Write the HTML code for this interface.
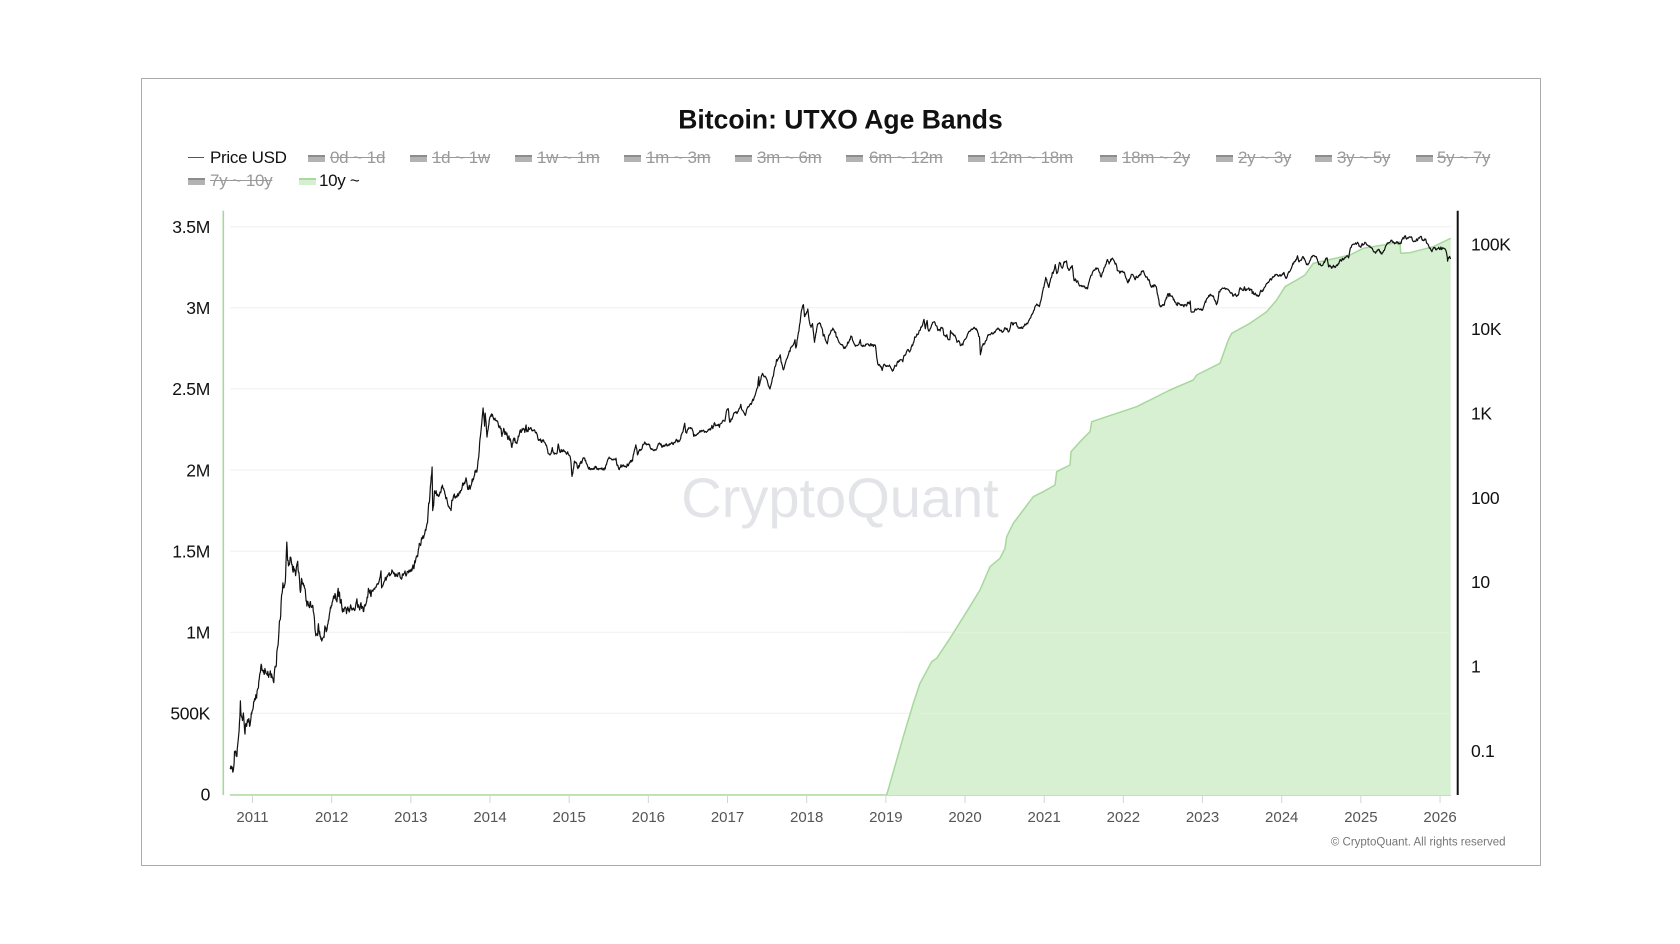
<!DOCTYPE html>
<html><head><meta charset="utf-8">
<style>
html,body{margin:0;padding:0;background:#fff;}
body{width:1680px;height:944px;position:relative;overflow:hidden;font-family:"Liberation Sans",Arial,sans-serif;}
#frame{position:absolute;left:140.5px;top:77.5px;width:1398px;height:786px;border:1.5px solid #ababab;}
.lg{position:absolute;font-size:17px;line-height:20px;letter-spacing:-0.3px;white-space:nowrap;}
.off{color:#9a9a9a;text-decoration:line-through;text-decoration-color:#9a9a9a;}
.on{color:#111;}
.bx{position:absolute;width:17px;height:5px;background:#b3b3b3;border-top:2px solid #8c8c8c;}
.bg{background:#d6efd1;border-top:2px solid #a8d99e;}
svg{position:absolute;left:0;top:0;}
</style></head>
<body>
<div id="frame"></div>

<!-- legend row 1 -->
<div style="position:absolute;left:188px;top:156.8px;width:16px;height:1.5px;background:#555;"></div>
<div class="lg on" style="left:210px;top:147.7px;">Price USD</div>
<div class="bx" style="left:308px;top:155px;"></div><div class="lg off" style="left:330px;top:147.7px;">0d ~ 1d</div>
<div class="bx" style="left:410px;top:155px;"></div><div class="lg off" style="left:432px;top:147.7px;">1d ~ 1w</div>
<div class="bx" style="left:515px;top:155px;"></div><div class="lg off" style="left:537px;top:147.7px;">1w ~ 1m</div>
<div class="bx" style="left:624px;top:155px;"></div><div class="lg off" style="left:646px;top:147.7px;">1m ~ 3m</div>
<div class="bx" style="left:735px;top:155px;"></div><div class="lg off" style="left:757px;top:147.7px;">3m ~ 6m</div>
<div class="bx" style="left:846px;top:155px;"></div><div class="lg off" style="left:869px;top:147.7px;">6m ~ 12m</div>
<div class="bx" style="left:968px;top:155px;"></div><div class="lg off" style="left:990px;top:147.7px;">12m ~ 18m</div>
<div class="bx" style="left:1100px;top:155px;"></div><div class="lg off" style="left:1122px;top:147.7px;">18m ~ 2y</div>
<div class="bx" style="left:1216px;top:155px;"></div><div class="lg off" style="left:1238px;top:147.7px;">2y ~ 3y</div>
<div class="bx" style="left:1315px;top:155px;"></div><div class="lg off" style="left:1337px;top:147.7px;">3y ~ 5y</div>
<div class="bx" style="left:1416px;top:155px;"></div><div class="lg off" style="left:1437px;top:147.7px;">5y ~ 7y</div>
<!-- legend row 2 -->
<div class="bx" style="left:188px;top:178px;"></div><div class="lg off" style="left:210px;top:170.9px;">7y ~ 10y</div>
<div class="bx bg" style="left:299px;top:178px;"></div><div class="lg on" style="left:319px;top:170.9px;">10y ~</div>

<svg width="1680" height="944" viewBox="0 0 1680 944" xmlns="http://www.w3.org/2000/svg">
  <text x="840.5" y="128.5" text-anchor="middle" font-family="Liberation Sans, Arial, sans-serif" font-weight="bold" font-size="26.5" fill="#111">Bitcoin: UTXO Age Bands</text>

  <!-- grid -->
  <g stroke="#efefef" stroke-width="1">
    <line x1="230" x2="1451" y1="226.7" y2="226.7"/>
    <line x1="230" x2="1451" y1="307.8" y2="307.8"/>
    <line x1="230" x2="1451" y1="388.9" y2="388.9"/>
    <line x1="230" x2="1451" y1="470" y2="470"/>
    <line x1="230" x2="1451" y1="551.1" y2="551.1"/>
    <line x1="230" x2="1451" y1="632.2" y2="632.2"/>
    <line x1="230" x2="1451" y1="713.3" y2="713.3"/>
  </g>

  <!-- watermark -->
  <text x="840" y="517" text-anchor="middle" font-family="Liberation Sans, Arial, sans-serif" font-size="56" fill="#e3e4e8">CryptoQuant</text>

  <!-- green area 10y+ -->
  <polygon fill="#d7f0d2" points="886.7,795 903.3,736.7 913.3,703.3 920,683.3 931.7,661.7 936.7,658.3 950,638.3 966.7,611.7 980,590 990,566.7 1000,558.3 1005,548.3 1006.7,536.7 1013.3,523.3 1023.3,510 1033.3,496.7 1043.3,491.7 1055,485 1056.7,471.7 1063.3,468.3 1070,465 1071,451.7 1080,441.7 1090,431.7 1091.7,421.7 1106.7,416.7 1136.7,406.7 1150,400 1170,390 1193.3,380 1196.7,375 1220,363.3 1228.3,340 1231.7,333.3 1250,323.3 1266.7,311.7 1276.7,300 1285,286.7 1296.7,280 1305,275 1313.3,263.3 1323.3,261 1350,255 1363.3,248.3 1383.3,245 1400,241.7 1400.7,253.3 1410,252.7 1433.3,246.7 1450.7,238.3 1450.7,795"/>
  <g stroke="#ecf6ea" stroke-width="1" opacity="0.6">
    <line x1="900" x2="1450" y1="632.2" y2="632.2"/>
    <line x1="920" x2="1450" y1="713.3" y2="713.3"/>
  </g>
  <polyline fill="none" stroke="#a6d89b" stroke-width="1.5" stroke-linejoin="round" points="230,795 886.7,795 903.3,736.7 913.3,703.3 920,683.3 931.7,661.7 936.7,658.3 950,638.3 966.7,611.7 980,590 990,566.7 1000,558.3 1005,548.3 1006.7,536.7 1013.3,523.3 1023.3,510 1033.3,496.7 1043.3,491.7 1055,485 1056.7,471.7 1063.3,468.3 1070,465 1071,451.7 1080,441.7 1090,431.7 1091.7,421.7 1106.7,416.7 1136.7,406.7 1150,400 1170,390 1193.3,380 1196.7,375 1220,363.3 1228.3,340 1231.7,333.3 1250,323.3 1266.7,311.7 1276.7,300 1285,286.7 1296.7,280 1305,275 1313.3,263.3 1323.3,261 1350,255 1363.3,248.3 1383.3,245 1400,241.7 1400.7,253.3 1410,252.7 1433.3,246.7 1450.7,238.3"/>

  <!-- x axis -->
  <line x1="230" x2="1451" y1="795.5" y2="795.5" stroke="#d4d4d4" stroke-width="1"/>
  <g id="xticks" stroke="#d4d4d4" stroke-width="1"></g>
  <g id="xlabels" font-family="Liberation Sans, Arial, sans-serif" font-size="15" fill="#555" text-anchor="middle"></g>

  <!-- axes lines -->
  <line x1="223.3" x2="223.3" y1="210.7" y2="795" stroke="#a6d89b" stroke-width="1.6"/>
  <line x1="1457.7" x2="1457.7" y1="210.7" y2="795" stroke="#111" stroke-width="2"/>

  <!-- left labels -->
  <g font-family="Liberation Sans, Arial, sans-serif" font-size="17.5" fill="#111" text-anchor="end" letter-spacing="-0.3">
    <text x="210" y="233">3.5M</text>
    <text x="210" y="314.1">3M</text>
    <text x="210" y="395.2">2.5M</text>
    <text x="210" y="476.3">2M</text>
    <text x="210" y="557.4">1.5M</text>
    <text x="210" y="638.5">1M</text>
    <text x="210" y="719.6">500K</text>
    <text x="210" y="800.7">0</text>
  </g>
  <!-- right labels -->
  <g font-family="Liberation Sans, Arial, sans-serif" font-size="17.5" fill="#111" letter-spacing="-0.3">
    <text x="1471" y="250.6">100K</text>
    <text x="1471" y="335">10K</text>
    <text x="1471" y="419.4">1K</text>
    <text x="1471" y="503.8">100</text>
    <text x="1471" y="588.2">10</text>
    <text x="1471" y="672.6">1</text>
    <text x="1471" y="757">0.1</text>
  </g>

  <!-- price line -->
  <path id="price" fill="none" stroke="#111" stroke-width="1.2" stroke-linejoin="round" d=""/>

  <text x="1505.5" y="845.5" text-anchor="end" font-family="Liberation Sans, Arial, sans-serif" font-size="11.5" fill="#777">© CryptoQuant. All rights reserved</text>
</svg>

<script>
(function(){
  function X(t){return 252.5+(t-2011)*79.17;}
  function YL(l){return 244.3-(l-5)*84.4;}
  function dy(s){var a=s.split('-').map(Number);var ms=Date.UTC(a[0],a[1]-1,a[2]);var y0=Date.UTC(a[0],0,1),y1=Date.UTC(a[0]+1,0,1);return a[0]+(ms-y0)/(y1-y0);}
  var NS="http://www.w3.org/2000/svg";
  var tk=document.getElementById('xticks'), lb=document.getElementById('xlabels');
  for(var y=2011;y<=2026;y++){
    var x=X(y);
    var l=document.createElementNS(NS,'line');l.setAttribute('x1',x);l.setAttribute('x2',x);l.setAttribute('y1',795.5);l.setAttribute('y2',803);tk.appendChild(l);
    var t=document.createElementNS(NS,'text');t.setAttribute('x',x);t.setAttribute('y',822);t.textContent=String(y);lb.appendChild(t);
  }
  var P=[
["2010-09-19",0.062],["2010-10-06",0.062],["2010-10-10",0.098],["2010-10-25",0.12],["2010-11-02",0.22],["2010-11-06",0.39],["2010-11-10",0.26],["2010-11-20",0.28],["2010-12-01",0.21],["2010-12-15",0.24],
["2011-01-01",0.30],["2011-01-20",0.42],["2011-02-01",0.70],["2011-02-10",1.06],["2011-02-20",0.85],["2011-03-01",0.90],["2011-03-20",0.80],["2011-04-05",0.72],["2011-04-15",1.0],["2011-04-25",1.6],["2011-05-05",3.4],["2011-05-15",7],["2011-05-25",8.5],["2011-06-01",10],["2011-06-08",29.6],["2011-06-12",18],["2011-06-20",16],["2011-07-01",16],["2011-07-15",13.8],["2011-08-01",13],["2011-08-10",7.5],["2011-08-15",11],["2011-08-25",9],["2011-09-01",8.2],["2011-09-15",5.5],["2011-10-01",5],["2011-10-12",4.0],["2011-10-20",2.3],["2011-11-01",3.2],["2011-11-18",2.05],["2011-12-01",3.0],["2011-12-15",3.2],
["2012-01-01",5.2],["2012-01-10",6.8],["2012-01-25",5.8],["2012-02-10",5.6],["2012-02-20",4.4],["2012-03-01",4.9],["2012-03-20",4.8],["2012-04-10",4.9],["2012-05-01",5.0],["2012-05-20",5.1],["2012-06-01",5.3],["2012-06-15",6.5],["2012-07-01",6.7],["2012-07-20",8.6],["2012-08-10",11],["2012-08-16",13.5],["2012-08-19",8.5],["2012-09-01",10.2],["2012-09-15",11.6],["2012-10-01",12.4],["2012-10-20",11.6],["2012-11-15",11],["2012-12-01",12.6],["2012-12-20",13.4],
["2013-01-01",13.4],["2013-01-15",14.3],["2013-02-01",20],["2013-02-15",27],["2013-03-01",33],["2013-03-15",47],["2013-03-28",90],["2013-04-09",230],["2013-04-12",70],["2013-04-20",120],["2013-05-01",105],["2013-05-15",115],["2013-06-01",128],["2013-06-15",100],["2013-07-05",70],["2013-07-15",98],["2013-08-01",105],["2013-08-20",120],["2013-09-01",140],["2013-09-20",125],["2013-10-01",125],["2013-10-20",180],["2013-11-01",200],["2013-11-10",300],["2013-11-20",600],["2013-11-30",1150],["2013-12-07",700],["2013-12-10",1000],["2013-12-18",520],["2013-12-25",700],
["2014-01-05",950],["2014-01-20",830],["2014-02-01",820],["2014-02-10",680],["2014-02-25",530],["2014-03-05",660],["2014-03-20",580],["2014-04-10",400],["2014-04-20",500],["2014-05-01",450],["2014-05-25",590],["2014-06-03",660],["2014-06-20",600],["2014-07-01",640],["2014-07-20",620],["2014-08-01",590],["2014-08-18",480],["2014-09-01",480],["2014-09-20",400],["2014-10-05",320],["2014-10-15",390],["2014-11-01",330],["2014-11-12",430],["2014-11-25",370],["2014-12-10",350],["2014-12-31",315],
["2015-01-07",290],["2015-01-14",178],["2015-01-25",270],["2015-02-10",220],["2015-02-28",255],["2015-03-10",295],["2015-03-25",245],["2015-04-14",220],["2015-05-01",235],["2015-06-01",225],["2015-06-20",245],["2015-07-10",290],["2015-07-20",280],["2015-08-01",280],["2015-08-18",215],["2015-09-01",230],["2015-09-20",230],["2015-10-01",238],["2015-10-20",270],["2015-11-04",420],["2015-11-12",320],["2015-12-01",370],["2015-12-15",455],
["2016-01-01",430],["2016-01-15",380],["2016-02-01",370],["2016-02-20",440],["2016-03-10",415],["2016-04-01",420],["2016-05-01",450],["2016-05-25",470],["2016-06-05",580],["2016-06-17",760],["2016-06-22",590],["2016-07-05",670],["2016-07-20",665],["2016-08-02",540],["2016-08-20",580],["2016-09-10",620],["2016-10-01",610],["2016-10-25",655],["2016-11-10",715],["2016-12-01",750],["2016-12-20",800],
["2017-01-04",1130],["2017-01-11",780],["2017-01-25",900],["2017-02-15",1000],["2017-03-03",1270],["2017-03-24",940],["2017-04-10",1200],["2017-05-01",1420],["2017-05-20",2000],["2017-05-25",2700],["2017-05-27",2100],["2017-06-11",2950],["2017-06-20",2700],["2017-07-01",2500],["2017-07-16",1930],["2017-08-01",2800],["2017-08-15",4300],["2017-09-01",4900],["2017-09-15",3250],["2017-09-30",4350],["2017-10-12",5400],["2017-10-20",6000],["2017-11-08",7400],["2017-11-12",5900],["2017-11-26",9300],["2017-12-07",16000],["2017-12-17",19300],["2017-12-22",13900],
["2018-01-06",17100],["2018-01-17",11000],["2018-01-28",11500],["2018-02-06",6900],["2018-02-20",11200],["2018-03-05",11500],["2018-03-18",8200],["2018-04-06",6600],["2018-04-24",9600],["2018-05-05",9800],["2018-05-28",7100],["2018-06-12",6500],["2018-06-29",5900],["2018-07-24",8200],["2018-08-14",6200],["2018-09-05",7400],["2018-09-10",6300],["2018-10-10",6600],["2018-11-14",6300],["2018-11-20",4500],["2018-11-25",3800],["2018-12-15",3200],["2018-12-25",3800],
["2019-01-10",3600],["2019-02-08",3400],["2019-02-24",4100],["2019-03-20",4050],["2019-04-02",4900],["2019-04-24",5500],["2019-05-14",8000],["2019-05-30",8600],["2019-06-26",12900],["2019-07-02",10000],["2019-07-10",12500],["2019-07-17",9400],["2019-08-06",11900],["2019-08-29",9500],["2019-09-20",10200],["2019-09-25",8400],["2019-10-23",7400],["2019-10-26",9500],["2019-11-25",6900],["2019-12-18",6600],
["2020-01-15",8800],["2020-02-13",10400],["2020-03-08",8000],["2020-03-12",4900],["2020-03-20",6200],["2020-04-30",8700],["2020-05-10",8700],["2020-06-01",10200],["2020-06-25",9200],["2020-07-25",9700],["2020-08-01",11800],["2020-08-20",11700],["2020-09-05",10200],["2020-10-10",11300],["2020-10-25",13000],["2020-11-10",15300],["2020-11-25",19000],["2020-12-10",18300],["2020-12-20",23500],
["2021-01-08",40500],["2021-01-22",30800],["2021-02-08",46400],["2021-02-21",57400],["2021-02-28",45000],["2021-03-13",61000],["2021-03-25",52000],["2021-04-14",63500],["2021-04-25",49000],["2021-05-10",56000],["2021-05-19",37000],["2021-05-30",35500],["2021-06-22",32500],["2021-07-20",29800],["2021-08-01",40000],["2021-08-22",49000],["2021-09-06",52000],["2021-09-21",41000],["2021-10-20",66000],["2021-10-27",58500],["2021-11-10",67500],["2021-11-30",57000],["2021-12-04",49000],["2021-12-31",46300],
["2022-01-22",35000],["2022-02-10",44000],["2022-02-24",38000],["2022-03-29",47500],["2022-04-30",37700],["2022-05-10",31000],["2022-05-31",31800],["2022-06-13",22500],["2022-06-18",19000],["2022-07-01",19300],["2022-07-30",24000],["2022-08-14",24400],["2022-09-06",18800],["2022-09-15",20000],["2022-10-15",19100],["2022-11-05",21300],["2022-11-09",16000],["2022-11-21",15800],["2022-12-20",16800],
["2023-01-01",16600],["2023-01-20",22700],["2023-02-15",24300],["2023-03-10",20100],["2023-03-18",27500],["2023-04-13",30500],["2023-05-12",26300],["2023-06-15",25000],["2023-06-23",30600],["2023-07-13",31400],["2023-08-16",29000],["2023-08-18",26100],["2023-09-11",25000],["2023-10-01",27500],["2023-10-24",34500],["2023-11-15",37800],["2023-12-05",44000],["2023-12-31",42300],
["2024-01-11",46500],["2024-01-23",39500],["2024-02-15",52000],["2024-02-28",62500],["2024-03-14",73100],["2024-03-20",62000],["2024-04-08",71600],["2024-05-01",57000],["2024-05-21",71000],["2024-06-07",71000],["2024-07-05",56000],["2024-07-29",69000],["2024-08-05",54000],["2024-09-06",53900],["2024-09-27",66000],["2024-10-29",72500],["2024-11-05",69000],["2024-11-13",90000],["2024-11-22",98500],["2024-12-05",101000],["2024-12-17",106000],["2024-12-30",92500],
["2025-01-20",106000],["2025-02-03",97000],["2025-02-27",84000],["2025-03-10",78500],["2025-03-25",87500],["2025-04-08",76500],["2025-04-25",94500],["2025-05-22",111000],["2025-06-05",101500],["2025-06-22",101000],["2025-07-14",120000],["2025-08-14",123000],["2025-08-30",108000],["2025-09-15",115500],["2025-10-06",124500],["2025-10-10",113000],["2025-10-27",115000],["2025-11-04",101000],["2025-11-21",84000],["2025-12-02",91000],["2025-12-20",88000],
["2026-01-05",93000],["2026-01-20",89000],["2026-01-31",78000],["2026-02-05",63000],["2026-02-10",70000],["2026-02-18",67000]
  ];
  var seed=987654321;
  function rnd(){seed|=0;seed=seed+0x6D2B79F5|0;var t=Math.imul(seed^seed>>>15,1|seed);t=t+Math.imul(t^t>>>7,61|t)^t;return((t^t>>>14)>>>0)/4294967296;}
  function gauss(){var u=0;for(var k=0;k<4;k++)u+=rnd();return (u-2)*1.73;}
  var d=[],n=0;
  for(var i=0;i<P.length-1;i++){
    var t0=dy(P[i][0]),t1=dy(P[i+1][0]),l0=Math.log10(P[i][1]),l1=Math.log10(P[i+1][1]);
    var N=Math.max(1,Math.round((t1-t0)*365.25/2));
    for(var k=0;k<N;k++){
      var f=k/N,t=t0+f*(t1-t0),l=l0+f*(l1-l0);
      var sig=t<2012.5?0.035:(t<2014.5?0.02:(t<2017?0.012:0.0095));
      n=0.8*n+gauss()*sig;
      var w=Math.min(1,k/2,(N-k)/2);
      d.push((d.length?'L':'M')+X(t).toFixed(1)+','+YL(l+n*w).toFixed(1));
    }
  }
  var last=P[P.length-1];
  d.push('L'+X(dy(last[0])).toFixed(1)+','+YL(Math.log10(last[1])).toFixed(1));
  document.getElementById('price').setAttribute('d',d.join(''));
})();
</script>
</body></html>
